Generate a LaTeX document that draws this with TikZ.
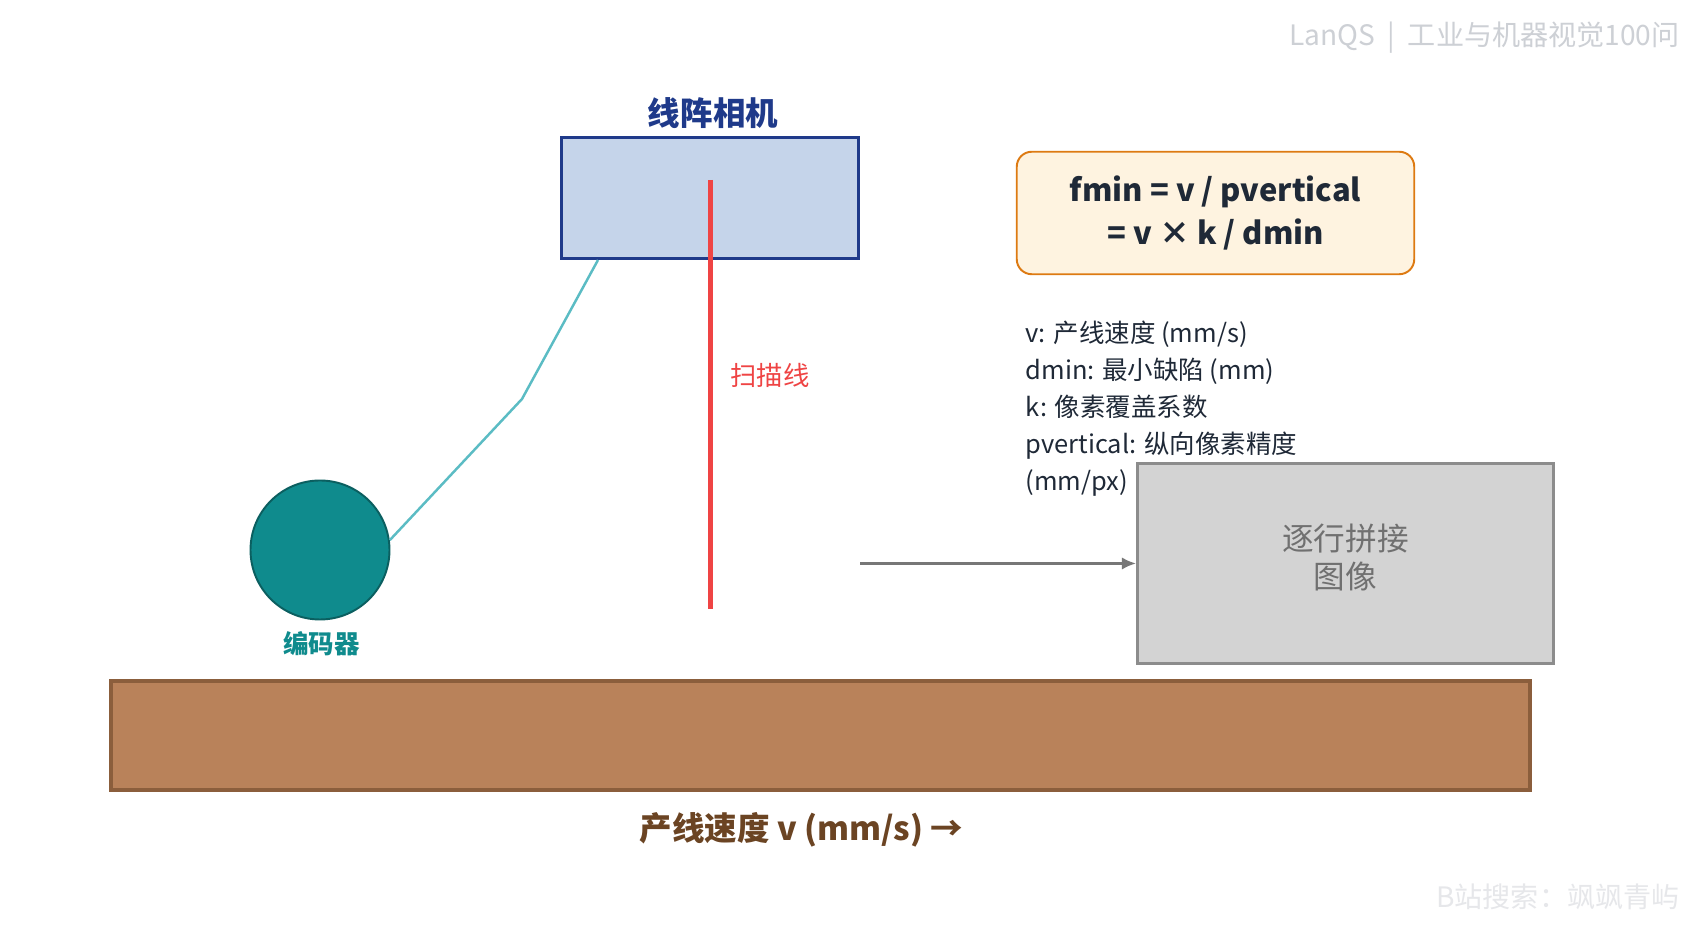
\documentclass[tikz,border=0pt]{standalone}
\usepackage{fontspec}
\setmainfont{Noto Sans CJK SC}
\usetikzlibrary{arrows.meta,positioning}
\definecolor{camblue}{HTML}{1F3A8A}
\definecolor{camfill}{HTML}{C5D4EA}
\definecolor{scanred}{HTML}{EF4444}
\definecolor{encteal}{HTML}{0F8B8D}
\definecolor{encdark}{HTML}{0B5F60}
\definecolor{cable}{HTML}{5BBCC4}
\definecolor{boxorange}{HTML}{DD7A12}
\definecolor{boxcream}{HTML}{FEF3E0}
\definecolor{textdark}{HTML}{1F2937}
\definecolor{imggray}{HTML}{D3D3D3}
\definecolor{imgedge}{HTML}{8C8C8C}
\definecolor{imgtext}{HTML}{707070}
\definecolor{arrowgray}{HTML}{777777}
\definecolor{beltfill}{HTML}{B9825A}
\definecolor{beltedge}{HTML}{8B5E3C}
\definecolor{beltlabel}{HTML}{6B4423}
\definecolor{markgray}{HTML}{CDD0D5}
\definecolor{marklight}{HTML}{E6E7EA}
\tikzstyle{camera}   = [draw=camblue, fill=camfill, line width=1.7pt, minimum width=5.95cm, minimum height=2.43cm]
\tikzstyle{encoder}  = [draw=encdark, fill=encteal, line width=1.1pt, circle, minimum size=2.78cm]
\tikzstyle{formula}  = [draw=boxorange, fill=boxcream, line width=1.1pt, rounded corners=0.3cm, minimum width=7.95cm, minimum height=2.45cm, align=center, text=textdark, font=\fontsize{17.6}{24.5}\selectfont\bfseries]
\tikzstyle{imagebox} = [draw=imgedge, fill=imggray, line width=1.7pt, minimum width=8.32cm, minimum height=4.0cm]
\tikzstyle{belt}     = [draw=beltedge, fill=beltfill, line width=2.3pt, minimum width=28.37cm, minimum height=2.17cm]
\tikzstyle{arrow}    = [draw=arrowgray, line width=1.4pt, -{Latex[length=8pt,width=7pt]}]
\tikzset{
	title/.style={font=\fontsize{18.5}{22}\selectfont\bfseries},
	legend/.style={align=left, anchor=north west, text=textdark, font=\fontsize{14.5}{21}\selectfont},
	watermark/.style={anchor=east, inner sep=0pt, font=\fontsize{16}{20}\selectfont},
}

\begin{document}
\begin{tikzpicture}
        \useasboundingbox (0,0) rectangle (34,18.6);
        \fill[white] (0,0) rectangle (34,18.6);

        % conveyor
        \node[belt] (belt) at (16.41,3.89) {};
        \node[title, text=beltlabel] (speed) at (16.03,2.0) {产线速度 v (mm/s) →};

        % camera and scan line
        \node[camera] (cam) at (14.2,14.64) {};
        \node[title, text=camblue] (camlabel) at (14.26,16.34) {线阵相机};
        \coordinate (scantop) at (14.21,15.0);
        \coordinate (scanbot) at (14.21,6.42);
        \draw[scanred, line width=2.3pt] (scantop) -- (scanbot);
        \node[text=scanred, font=\fontsize{15}{18}\selectfont] (scanlabel) at (15.4,11.1) {扫描线};

        % encoder
        \node[encoder] (enc) at (6.4,7.6) {};
        \node[text=encteal, font=\fontsize{14.5}{18}\selectfont\bfseries] (enclabel) at (6.43,5.72) {编码器};
        \coordinate (bend) at (10.44,10.62);
        \coordinate (camfoot) at (11.96,13.4);
        \draw[cable, line width=1.4pt] (enc.8) -- (bend) -- (camfoot);

        % formula and legend
        \node[formula] (fmin) at (24.31,14.34) {fmin = v / pvertical\\= v × k / dmin};
        \node[legend] (notes) at (20.39,12.3) {v: 产线速度 (mm/s)\\dmin: 最小缺陷 (mm)\\k: 像素覆盖系数\\pvertical: 纵向像素精度\\(mm/px)};

        % stitched image
        \node[imagebox] (img) at (26.91,7.33) {};
        \node[align=center, text=imgtext, font=\fontsize{18}{22}\selectfont, yshift=0.12cm] (imglabel) at (img) {逐行拼接\\图像};
        \draw[arrow] (cam.east |- img.west) -- (img.west);

        % watermarks
        \node[watermark, text=markgray] (wm1) at (33.6,17.85) {LanQS ~|~ 工业与机器视觉100问};
        \node[watermark, text=marklight] (wm2) at (33.6,0.66) {B站搜索：飒飒青屿};
    \end{tikzpicture}
\end{document}
